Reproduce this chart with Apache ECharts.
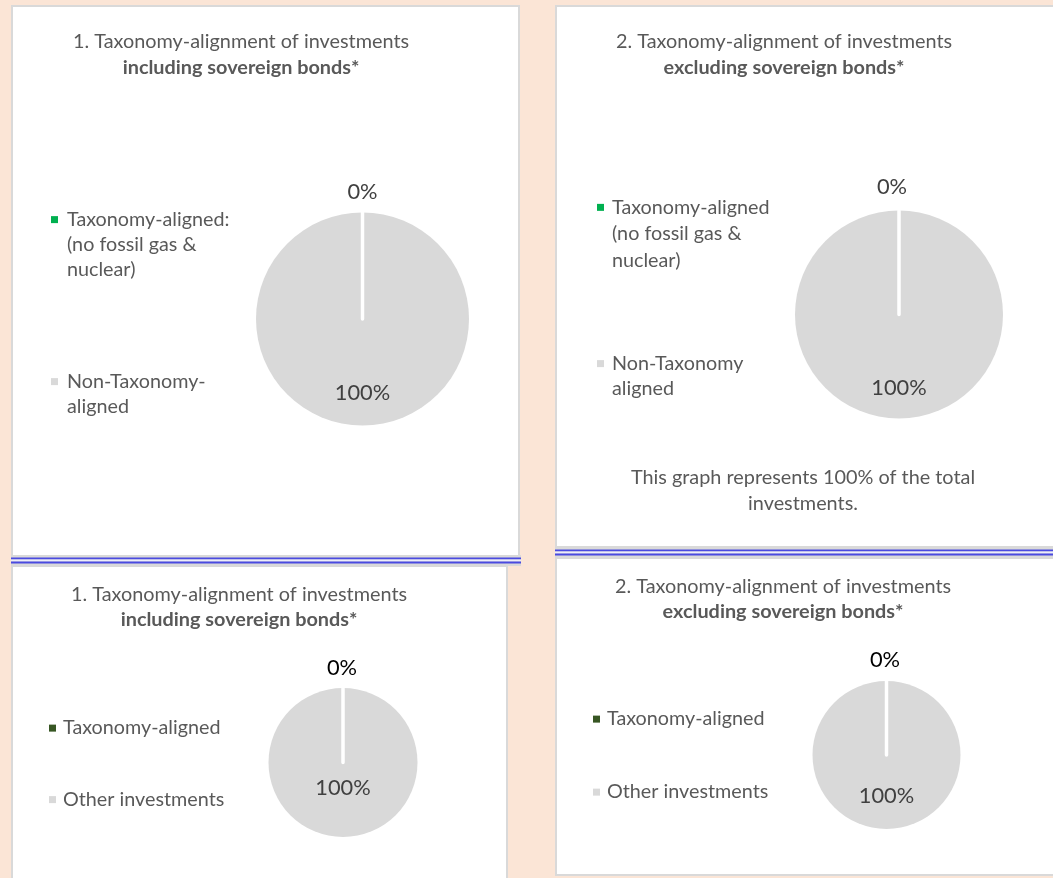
<!DOCTYPE html>
<html>
<head>
<meta charset="utf-8">
<script src="https://cdn.jsdelivr.net/npm/echarts@6/dist/echarts.min.js"></script>
<style>
html,body{margin:0;padding:0;background:#FBE5D6;}
#c{width:1053px;height:878px;}
</style>
</head>
<body>
<div id="c"></div>
<script>
// ---------------- data ----------------
const titleLine1 = ['1. Taxonomy-alignment of investments', '2. Taxonomy-alignment of investments',
                    '1. Taxonomy-alignment of investments', '2. Taxonomy-alignment of investments'];
const titleLine2 = ['including sovereign bonds*', 'excluding sovereign bonds*',
                    'including sovereign bonds*', 'excluding sovereign bonds*'];
const categoriesTopLeft = ['Taxonomy-aligned:\n(no fossil gas &\nnuclear)', 'Non-Taxonomy-\naligned'];
const categoriesTopRight = ['Taxonomy-aligned\n(no fossil gas &\nnuclear)', 'Non-Taxonomy\naligned'];
const categoriesBottom = ['Taxonomy-aligned', 'Other investments'];
const valuesTopLeft = [0, 100];
const valuesTopRight = [0, 100];
const valuesBottomLeft = [0, 100];
const valuesBottomRight = [0, 100];
const footnote = 'This graph represents 100% of the total\ninvestments.';

// ---------------- styling ----------------
const FONT = "Lato, 'Open Sans', sans-serif";
const cv = document.createElement('canvas').getContext('2d');
cv.font = '100px Lato';
const kf = 1587 / cv.measureText('1. Taxonomy-alignment of investments').width;
const F = { title: 21.2 * kf, legend: 21.1 * kf, label: 23.3 * kf };
const TXT = '#595959';
const GRAY = '#D9D9D9';

// panel layouts
const panels = [
  { cats: categoriesTopLeft, vals: valuesTopLeft, aligned: '#00B050',
    titleX: 241, titleY: 29, titleLH: 26,
    center: [362.5, 319], r: 106.5, zeroLen: 20.5, zeroShift: 0, hundredShift: 18, zeroColor: '#404040',
    legend: [{ x: 51, text: 67, c: 217, L: 25 }, { x: 51, text: 67, c: 379, L: 25 }] },
  { cats: categoriesTopRight, vals: valuesTopRight, aligned: '#00B050',
    titleX: 784, titleY: 29, titleLH: 26,
    center: [899, 314.5], r: 104, zeroLen: 23.5, zeroShift: -7, hundredShift: 18.5, zeroColor: '#404040',
    legend: [{ x: 597, text: 612, c: 204, L: 26.5 }, { x: 597, text: 612, c: 361, L: 25 }] },
  { cats: categoriesBottom, vals: valuesBottomLeft, aligned: '#375623',
    titleX: 239, titleY: 582.5, titleLH: 25,
    center: [343, 762.5], r: 74.5, zeroLen: 20, zeroShift: -1, hundredShift: -14.5, zeroColor: '#000000',
    legend: [{ x: 49, text: 63, c: 725.5, L: 25 }, { x: 49, text: 63, c: 797, L: 25 }] },
  { cats: categoriesBottom, vals: valuesBottomRight, aligned: '#375623',
    titleX: 783, titleY: 574.5, titleLH: 25,
    center: [886.5, 755], r: 74, zeroLen: 21, zeroShift: -1.5, hundredShift: 1, zeroColor: '#000000',
    legend: [{ x: 593, text: 607, c: 716.5, L: 25 }, { x: 593, text: 607, c: 789.5, L: 25 }] }
];

const titles = [];
const legends = [];
const series = [];

panels.forEach((p, pi) => {
  titles.push({
    left: p.titleX, top: p.titleY, textAlign: 'center', textVerticalAlign: 'top', padding: 0,
    text: '{a|' + titleLine1[pi] + '}\n{b|' + titleLine2[pi] + '}',
    textStyle: { fontWeight: 'normal', rich: {
      a: { fontFamily: FONT, fontSize: F.title, color: TXT, fontWeight: 'normal', lineHeight: p.titleLH },
      b: { fontFamily: FONT, fontSize: F.title, color: TXT, fontWeight: 'bold', lineHeight: p.titleLH }
    } }
  });

  const colors = [p.aligned, GRAY];
  p.cats.forEach((name, i) => {
    const lg = p.legend[i];
    const n = name.split('\n').length;
    legends.push({
      orient: 'vertical', left: lg.x, top: lg.c - (n - 1) * lg.L - F.legend / 2,
      padding: 0, itemWidth: 7, itemHeight: 7, icon: 'rect', selectedMode: false,
      itemStyle: { borderWidth: 0 },
      data: [{ name: name, itemStyle: { color: colors[i], borderWidth: 0, borderColor: colors[i] } }],
      formatter: nm => '\n'.repeat(nm.split('\n').length - 1) + nm,
      textStyle: { fontFamily: FONT, fontSize: F.legend, color: TXT, lineHeight: lg.L,
                   padding: [0, 0, 0, lg.text - lg.x - 12] }
    });
  });

  const W = 70;
  const hs = p.hundredShift;
  series.push({
    type: 'pie', center: p.center, radius: [0, p.r], startAngle: 90, clockwise: true,
    silent: true, animation: false, avoidLabelOverlap: false,
    data: [1, 0].map(i => ({
      name: p.cats[i], value: p.vals[i],
      itemStyle: i === 0
        ? { color: p.aligned, borderColor: '#ffffff', borderWidth: 3.5 }
        : { color: GRAY, borderWidth: 0 },
      label: i === 0
        ? { show: true, position: 'outside', distanceToLabelLine: -W / 2 + p.zeroShift,
            formatter: '{z|{c}%}',
            rich: { z: { width: W, align: 'center', fontFamily: FONT, fontSize: F.label, color: p.zeroColor } } }
        : { show: true, position: 'inside', formatter: '{h|{c}%}',
            rich: { h: { fontFamily: FONT, fontSize: F.label, color: '#404040',
                         padding: hs >= 0 ? [2 * hs, 0, 0, 0] : [0, 0, -2 * hs, 0] } } },
      labelLine: { show: false, length: p.zeroLen, length2: 0 }
    }))
  });
});

titles.push({
  left: 803, top: 465, textAlign: 'center', textVerticalAlign: 'top', padding: 0,
  text: footnote,
  textStyle: { fontFamily: FONT, fontSize: F.title, color: TXT, fontWeight: 'normal', lineHeight: 26 }
});

function rect(x, y, w, h, fill, stroke, lw) {
  return { type: 'rect', silent: true, z: -10,
    shape: { x: x, y: y, width: w, height: h },
    style: { fill: fill, stroke: stroke || null, lineWidth: lw || 0 } };
}
const BLUE = '#4A4AE0';
const graphics = [
  rect(12, 6, 507, 550, '#ffffff', GRAY, 2),
  rect(556, 6, 510, 541, '#ffffff', GRAY, 2),
  rect(12, 566, 495, 330, '#ffffff', GRAY, 2),
  rect(556, 558, 510, 317, '#ffffff', GRAY, 2),
  // separators
  rect(11, 555, 510, 11, GRAY),
  rect(11, 557.5, 510, 2, BLUE),
  rect(11, 559.5, 510, 2, '#EEEEF8'),
  rect(11, 561.5, 510, 2, BLUE),
  rect(555, 547, 500, 11, GRAY),
  rect(555, 549.5, 500, 2, BLUE),
  rect(555, 551.5, 500, 2, '#EEEEF8'),
  rect(555, 553.5, 500, 2, BLUE)
];

const chart = echarts.init(document.getElementById('c'), null, { renderer: 'canvas' });
chart.setOption({
  backgroundColor: '#FBE5D6',
  animation: false,
  title: titles,
  legend: legends,
  graphic: { elements: graphics },
  series: series
});
</script>
</body>
</html>
